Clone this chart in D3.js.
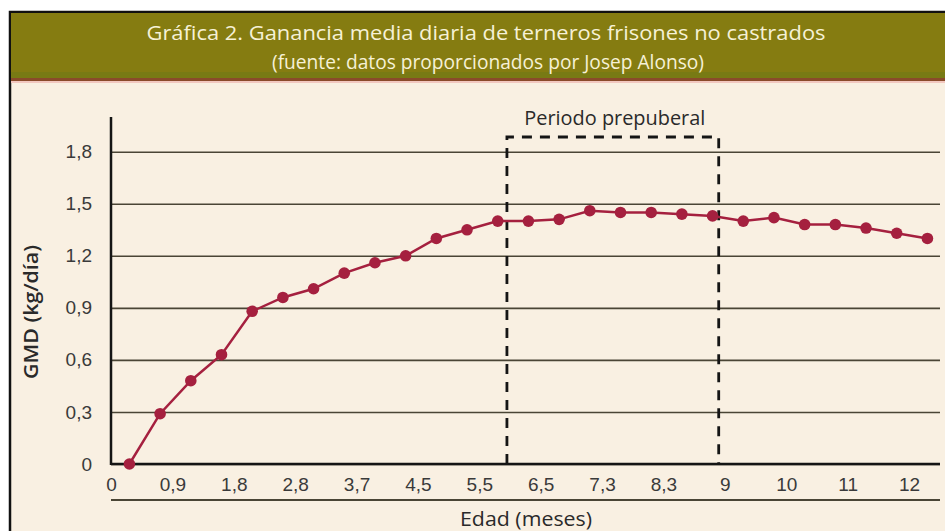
<!DOCTYPE html>
<html>
<head>
<meta charset="utf-8">
<script src="https://cdn.jsdelivr.net/npm/d3@7"></script>
<style>
  html, body { margin: 0; padding: 0; background: #ffffff; }
  svg { display: block; font-family: "Open Sans", "Noto Sans", sans-serif; }
</style>
</head>
<body>
<div id="chart"></div>
<script>
// Monthly age labels on the x axis and daily gain values (kg/day)
const ageLabels = ["0", "0,9", "1,8", "2,8", "3,7", "4,5", "5,5", "6,5", "7,3", "8,3", "9", "10", "11", "12"];
const gainValues = [0.00, 0.29, 0.48, 0.63, 0.88, 0.96, 1.01, 1.10, 1.16, 1.20,
                    1.30, 1.35, 1.40, 1.40, 1.41, 1.46, 1.45, 1.45, 1.44, 1.43,
                    1.40, 1.42, 1.38, 1.38, 1.36, 1.33, 1.30];
const yTicks = [0, 0.3, 0.6, 0.9, 1.2, 1.5, 1.8];
// prepuberal window, in x-label units
const prepuberal = [6.45, 9.9];

const width = 945, height = 531;
const plotLeft = 111, plotRight = 940, plotTop = 117, plotBottom = 464;

const svg = d3.select("#chart").append("svg")
  .attr("width", width)
  .attr("height", height);

// frame + background
svg.append("rect").attr("x", 10).attr("y", 12).attr("width", width).attr("height", height)
  .attr("fill", "#f9f0e2").attr("stroke", "#111").attr("stroke-width", 2.5);

// title band
svg.append("rect").attr("x", 11).attr("y", 13).attr("width", width).attr("height", 66)
  .attr("fill", "#857c11");
svg.append("rect").attr("x", 11).attr("y", 72).attr("width", width).attr("height", 6)
  .attr("fill", "#787a14");
svg.append("rect").attr("x", 11).attr("y", 78).attr("width", width).attr("height", 3)
  .attr("fill", "#8a4a2a");
svg.append("rect").attr("x", 11).attr("y", 81).attr("width", width).attr("height", 2)
  .attr("fill", "#f2c8c0");

const title = svg.append("text")
  .attr("text-anchor", "middle")
  .attr("fill", "#f6f1d6")
  .style("font-size", "20px");
title.append("tspan").attr("x", 486).attr("y", 40)
  .attr("textLength", 679).attr("lengthAdjust", "spacingAndGlyphs")
  .text("Gráfica 2. Ganancia media diaria de terneros frisones no castrados");
title.append("tspan").attr("x", 488).attr("y", 69)
  .attr("textLength", 432).attr("lengthAdjust", "spacingAndGlyphs")
  .text("(fuente: datos proporcionados por Josep Alonso)");

const x = d3.scaleLinear().domain([0, 13]).range([plotLeft, 909]);
const y = d3.scaleLinear().domain([0, 2.0]).range([plotBottom, plotTop]);

// gridlines / y axis
const yAxis = svg.append("g")
  .attr("transform", `translate(${plotLeft},0)`)
  .call(d3.axisLeft(y)
    .tickValues(yTicks)
    .tickSize(-(plotRight - plotLeft))
    .tickPadding(19)
    .tickFormat(d => d === 0 ? "0" : d3.format(".1f")(d).replace(".", ",")));
yAxis.select(".domain").remove();
yAxis.selectAll(".tick line")
  .attr("stroke", "#4a4535")
  .attr("stroke-width", 1.6);
yAxis.selectAll("text")
  .attr("fill", "#3a3a3a")
  .style("font-size", "19px");

// x labels
const xAxis = svg.append("g")
  .attr("transform", `translate(0,${plotBottom})`)
  .call(d3.axisBottom(x)
    .tickValues(d3.range(ageLabels.length))
    .tickSize(0)
    .tickPadding(14)
    .tickFormat(i => ageLabels[i]));
xAxis.select(".domain").remove();
xAxis.selectAll("text")
  .attr("fill", "#3a3a3a")
  .style("font-size", "19px");

// axis lines
svg.append("line").attr("x1", plotLeft).attr("x2", plotLeft)
  .attr("y1", plotTop).attr("y2", plotBottom + 1)
  .attr("stroke", "#151515").attr("stroke-width", 2.5);
svg.append("line").attr("x1", plotLeft).attr("x2", plotRight)
  .attr("y1", plotBottom).attr("y2", plotBottom)
  .attr("stroke", "#151515").attr("stroke-width", 2.5);
svg.append("line").attr("x1", plotLeft).attr("x2", plotRight)
  .attr("y1", 500).attr("y2", 500)
  .attr("stroke", "#4a4535").attr("stroke-width", 2);

// axis titles
svg.append("text")
  .attr("x", 526).attr("y", 526)
  .attr("text-anchor", "middle")
  .attr("fill", "#2a2a2a")
  .style("font-size", "20px")
  .attr("textLength", 132).attr("lengthAdjust", "spacingAndGlyphs")
  .text("Edad (meses)");
svg.append("text")
  .attr("transform", "translate(38,312) rotate(-90)")
  .attr("text-anchor", "middle")
  .attr("fill", "#2a2a2a")
  .style("font-size", "20px")
  .style("font-weight", "600")
  .attr("textLength", 134).attr("lengthAdjust", "spacingAndGlyphs")
  .text("GMD (kg/día)");

// prepuberal box
const boxTop = 137;
svg.append("path")
  .attr("d", `M${x(prepuberal[0])},${plotBottom} V${boxTop} H${x(prepuberal[1])} V${plotBottom}`)
  .attr("fill", "none")
  .attr("stroke", "#151515")
  .attr("stroke-width", 2.8)
  .attr("stroke-dasharray", "10,8");
svg.append("text")
  .attr("x", (x(prepuberal[0]) + x(prepuberal[1])) / 2 + 2)
  .attr("y", 125)
  .attr("text-anchor", "middle")
  .attr("fill", "#2a2a2a")
  .style("font-size", "20px")
  .attr("textLength", 181).attr("lengthAdjust", "spacingAndGlyphs")
  .text("Periodo prepuberal");

// series
const pts = gainValues.map((v, i) => [x(0.3 + 0.5 * i), y(v)]);
svg.append("path")
  .attr("d", d3.line()(pts))
  .attr("fill", "none")
  .attr("stroke", "#a5203f")
  .attr("stroke-width", 2.5);
svg.selectAll("circle.pt").data(pts).enter()
  .append("circle")
  .attr("class", "pt")
  .attr("cx", d => d[0])
  .attr("cy", d => d[1])
  .attr("r", 5.8)
  .attr("fill", "#a5203f");
</script>
</body>
</html>
